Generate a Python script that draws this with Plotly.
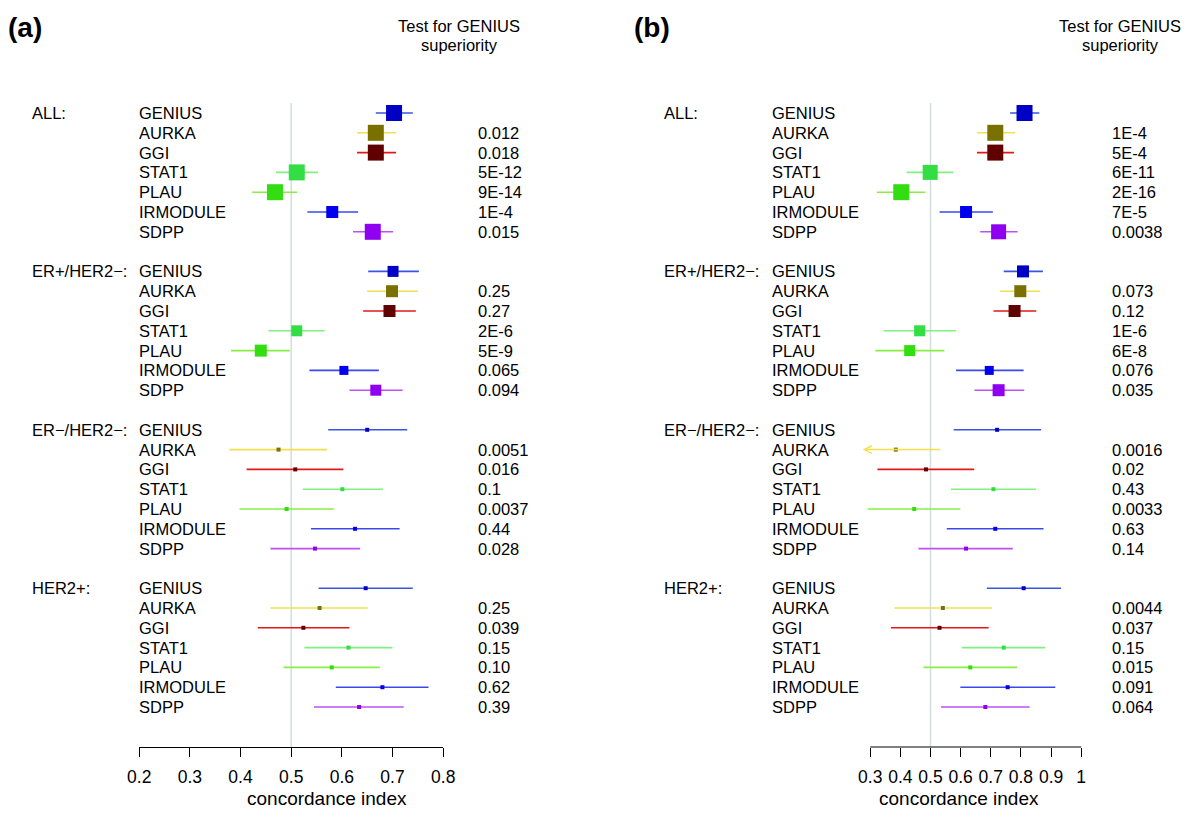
import plotly.graph_objects as go

# ---------------- data ----------------
models = ["GENIUS", "AURKA", "GGI", "STAT1", "PLAU", "IRMODULE", "SDPP"]
groups = ["ALL:", "ER+/HER2\u2212:", "ER\u2212/HER2\u2212:", "HER2+:"]

# Panel (a)
a_all_est = [0.703, 0.667, 0.667, 0.511, 0.468, 0.581, 0.661]
a_all_lo = [0.667, 0.630, 0.630, 0.470, 0.423, 0.532, 0.622]
a_all_hi = [0.740, 0.707, 0.707, 0.553, 0.512, 0.632, 0.701]
a_all_p = ["0.012", "0.018", "5E-12", "9E-14", "1E-4", "0.015"]

a_erp_est = [0.701, 0.699, 0.694, 0.511, 0.440, 0.604, 0.667]
a_erp_lo = [0.652, 0.650, 0.642, 0.455, 0.381, 0.536, 0.615]
a_erp_hi = [0.752, 0.750, 0.746, 0.566, 0.497, 0.673, 0.720]
a_erp_p = ["0.25", "0.27", "2E-6", "5E-9", "0.065", "0.094"]

a_ern_est = [0.650, 0.475, 0.508, 0.601, 0.491, 0.626, 0.547]
a_ern_lo = [0.573, 0.378, 0.412, 0.523, 0.398, 0.539, 0.459]
a_ern_hi = [0.729, 0.571, 0.603, 0.681, 0.584, 0.714, 0.636]
a_ern_p = ["0.0051", "0.016", "0.1", "0.0037", "0.44", "0.028"]

a_her_est = [0.647, 0.556, 0.524, 0.613, 0.580, 0.680, 0.634]
a_her_lo = [0.554, 0.459, 0.434, 0.526, 0.485, 0.588, 0.545]
a_her_hi = [0.740, 0.651, 0.615, 0.700, 0.675, 0.771, 0.722]
a_her_p = ["0.25", "0.039", "0.15", "0.10", "0.62", "0.39"]

# Panel (b)
b_all_est = [0.812, 0.715, 0.715, 0.499, 0.403, 0.618, 0.726]
b_all_lo = [0.764, 0.654, 0.654, 0.421, 0.322, 0.530, 0.665]
b_all_hi = [0.861, 0.781, 0.777, 0.576, 0.482, 0.707, 0.789]
b_all_p = ["1E-4", "5E-4", "6E-11", "2E-16", "7E-5", "0.0038"]

b_erp_est = [0.807, 0.798, 0.779, 0.464, 0.431, 0.695, 0.726]
b_erp_lo = [0.743, 0.731, 0.709, 0.344, 0.317, 0.585, 0.646]
b_erp_hi = [0.873, 0.864, 0.851, 0.585, 0.546, 0.809, 0.811]
b_erp_p = ["0.073", "0.12", "1E-6", "6E-8", "0.076", "0.035"]

b_ern_est = [0.721, 0.385, 0.485, 0.709, 0.446, 0.715, 0.618]
b_ern_lo = [0.577, 0.250, 0.324, 0.568, 0.292, 0.554, 0.460]
b_ern_hi = [0.867, 0.538, 0.645, 0.850, 0.599, 0.875, 0.773]
b_ern_p = ["0.0016", "0.02", "0.43", "0.0033", "0.63", "0.14"]

b_her_est = [0.809, 0.541, 0.530, 0.743, 0.632, 0.756, 0.682]
b_her_lo = [0.687, 0.380, 0.369, 0.604, 0.477, 0.599, 0.535]
b_her_hi = [0.933, 0.704, 0.693, 0.881, 0.787, 0.914, 0.829]
b_her_p = ["0.0044", "0.037", "0.15", "0.015", "0.091", "0.064"]

a_ticks = ["0.2", "0.3", "0.4", "0.5", "0.6", "0.7", "0.8"]
b_ticks = ["0.3", "0.4", "0.5", "0.6", "0.7", "0.8", "0.9", "1"]
ref_value = 0.5
b_clip_low = 0.275

# ---------------- styles ----------------
box_colors = ["#0000c4", "#7a7000", "#600000", "#33dd44", "#33dd11", "#0000ee", "#8f00f0"]
line_colors = ["#3a55e0", "#f0e050", "#e01818", "#80f080", "#88ee44", "#3a48ee", "#c050f0"]
a_sizes = [[16, 16, 16, 16, 16, 12, 16], [11, 12, 12, 11, 12, 9, 11], [4] * 7, [4] * 7]
b_sizes = [[16, 16, 16, 15, 16, 12, 15], [12, 12, 12, 11, 11, 9, 12], [4] * 7, [4] * 7]

W, H = 1200, 821
ROW0_PX, ROW_PX = 113, 19.8
AXIS_PX, TOP_PX = 747, 103
FONT = "Liberation Sans, Arial, Helvetica, sans-serif"
FS = 16.5
TICK_FS = 17.5
TITLE_FS = 19
# observed horizontal placement of the page in the photograph
X_OFF, X_SCALE = 11.8, 0.98


def yp(px):
    return 1 - px / H


def xp(px):
    return ((px - X_OFF) / X_SCALE) / W


panels = [
    dict(est=[a_all_est, a_erp_est, a_ern_est, a_her_est],
         lo=[a_all_lo, a_erp_lo, a_ern_lo, a_her_lo],
         hi=[a_all_hi, a_erp_hi, a_ern_hi, a_her_hi],
         p=[a_all_p, a_erp_p, a_ern_p, a_her_p],
         sizes=a_sizes, xa="x", clip=None,
         label="(a)", label_x=6, group_x=30, name_x=137, p_x=476,
         head_x=459, title_x=327),
    dict(est=[b_all_est, b_erp_est, b_ern_est, b_her_est],
         lo=[b_all_lo, b_erp_lo, b_ern_lo, b_her_lo],
         hi=[b_all_hi, b_erp_hi, b_ern_hi, b_her_hi],
         p=[b_all_p, b_erp_p, b_ern_p, b_her_p],
         sizes=b_sizes, xa="x2", clip=b_clip_low,
         label="(b)", label_x=632, group_x=662, name_x=770, p_x=1110,
         head_x=1120, title_x=959),
]

fig = go.Figure()
annotations = []
shapes = []

for pan in panels:
    for m, model in enumerate(models):
        lx, ly, mx, my, ms = [], [], [], [], []
        for g in range(len(groups)):
            row = g * 8 + m
            lo = pan["lo"][g][m]
            hi = pan["hi"][g][m]
            if pan["clip"] is not None and lo < pan["clip"]:
                annotations.append(dict(
                    x=pan["clip"], y=row, xref=pan["xa"], yref="y",
                    ax=hi, ay=row, axref=pan["xa"], ayref="y",
                    text="", showarrow=True, arrowhead=5, arrowsize=1.0,
                    arrowwidth=1.5, arrowcolor=line_colors[m]))
            else:
                lx += [lo, hi, None]
                ly += [row, row, None]
            mx.append(pan["est"][g][m])
            my.append(row)
            ms.append(pan["sizes"][g][m])
        fig.add_trace(go.Scatter(x=lx, y=ly, xaxis=pan["xa"], yaxis="y", mode="lines",
                                 line=dict(color=line_colors[m], width=1.6),
                                 hoverinfo="skip", showlegend=False))
        fig.add_trace(go.Scatter(x=mx, y=my, xaxis=pan["xa"], yaxis="y", mode="markers",
                                 marker=dict(symbol="square", size=ms, color=box_colors[m],
                                             opacity=1, line=dict(width=0)),
                                 cliponaxis=False, showlegend=False, name=model))

    # texts
    for g, grp in enumerate(groups):
        annotations.append(dict(x=xp(pan["group_x"]), y=g * 8, xref="paper", yref="y",
                                text=grp, showarrow=False, xanchor="left", yanchor="middle",
                                font=dict(size=FS)))
        for m, model in enumerate(models):
            annotations.append(dict(x=xp(pan["name_x"]), y=g * 8 + m, xref="paper", yref="y",
                                    text=model, showarrow=False, xanchor="left",
                                    yanchor="middle", font=dict(size=FS)))
        for k, pv in enumerate(pan["p"][g]):
            annotations.append(dict(x=xp(pan["p_x"]), y=g * 8 + k + 1, xref="paper", yref="y",
                                    text=pv, showarrow=False, xanchor="left",
                                    yanchor="middle", font=dict(size=FS)))
    annotations.append(dict(x=xp(pan["label_x"]), y=yp(28), xref="paper", yref="paper",
                            text="<b>" + pan["label"] + "</b>", showarrow=False,
                            xanchor="left", yanchor="middle", font=dict(size=28)))
    annotations.append(dict(x=xp(pan["head_x"]), y=yp(26), xref="paper", yref="paper",
                            text="Test for GENIUS", showarrow=False, xanchor="center",
                            yanchor="middle", font=dict(size=FS)))
    annotations.append(dict(x=xp(pan["head_x"]), y=yp(45), xref="paper", yref="paper",
                            text="superiority", showarrow=False, xanchor="center",
                            yanchor="middle", font=dict(size=FS)))
    annotations.append(dict(x=xp(pan["title_x"]), y=yp(798), xref="paper", yref="paper",
                            text="concordance index", showarrow=False, xanchor="center",
                            yanchor="middle", font=dict(size=TITLE_FS)))
    shapes.append(dict(type="line", xref=pan["xa"], yref="y domain", x0=ref_value,
                       x1=ref_value, y0=0, y1=1, layer="below",
                       line=dict(color="#d3dede", width=1.5)))

# axis line for panel b (spans first to last tick)
shapes.append(dict(type="line", xref="x2", yref="y domain", x0=float(b_ticks[0]),
                   x1=float(b_ticks[-1]), y0=0, y1=0, line=dict(color="black", width=1)))

# axis geometry (reference pixel positions of tick ends)
ya_range = [(AXIS_PX - ROW0_PX) / ROW_PX, (TOP_PX - ROW0_PX) / ROW_PX]
a_lo_px, a_hi_px = 139, 443
b_lo_px, b_hi_px = 870, 1081
b_unit = (b_hi_px - b_lo_px) / (float(b_ticks[-1]) - float(b_ticks[0]))
b_dom = (850, 1092)
b_range = [float(b_ticks[0]) - (b_lo_px - b_dom[0]) / b_unit,
           float(b_ticks[-1]) + (b_dom[1] - b_hi_px) / b_unit]

common_x = dict(showgrid=False, zeroline=False, ticks="outside", ticklen=9, tickwidth=1,
                tickcolor="black", tickfont=dict(size=TICK_FS), ticklabelstandoff=5,
                fixedrange=True)

fig.update_layout(
    width=W, height=H, margin=dict(l=0, r=0, t=0, b=0),
    paper_bgcolor="white", plot_bgcolor="white",
    font=dict(family=FONT, color="black", size=FS),
    xaxis=dict(domain=[xp(a_lo_px), xp(a_hi_px)],
               range=[float(a_ticks[0]), float(a_ticks[-1])],
               tickvals=[float(t) for t in a_ticks], ticktext=a_ticks,
               showline=True, linecolor="black", linewidth=1, anchor="y", **common_x),
    xaxis2=dict(domain=[xp(b_dom[0]), xp(b_dom[1])], range=b_range,
                tickvals=[float(t) for t in b_ticks], ticktext=b_ticks,
                showline=False, anchor="y", **common_x),
    yaxis=dict(domain=[yp(AXIS_PX), yp(TOP_PX)], range=ya_range, visible=False,
               fixedrange=True),
    annotations=annotations, shapes=shapes, showlegend=False,
)

fig.write_html("out.html", config={"displayModeBar": False},
               post_script="document.body.style.margin='0';document.body.style.overflow='hidden';")
